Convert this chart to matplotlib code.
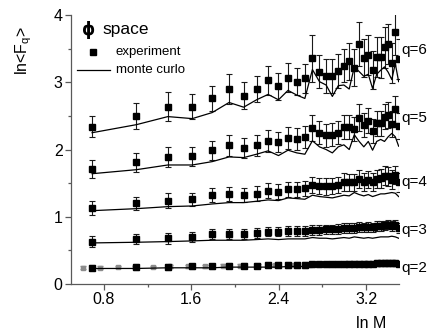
import numpy as np
import matplotlib
matplotlib.use("Agg")
import matplotlib.pyplot as plt

plt.rcParams["font.family"] = ["Liberation Sans", "DejaVu Sans"]
plt.rcParams["mathtext.fontset"] = "custom"
plt.rcParams["mathtext.rm"] = "Liberation Sans"

# bin number M, plotted as ln M
M = [2, 3, 4, 5, 6, 7, 8, 9, 10, 11, 12, 13, 14, 15, 16, 17, 18, 19, 20, 21,
     22, 23, 24, 25, 26, 27, 28, 29, 30, 31, 32, 33]

q6_exp = [2.34, 2.50, 2.64, 2.64, 2.76, 2.90, 2.80, 2.90, 3.03, 2.94, 3.07, 3.01,
          3.06, 3.36, 3.16, 3.09, 3.09, 3.17, 3.25, 3.31, 3.22, 3.57, 3.36, 3.41,
          3.18, 3.38, 3.37, 3.52, 3.57, 3.29, 3.75, 3.35]
q6_err = [0.16, 0.19, 0.22, 0.19, 0.18, 0.23, 0.20, 0.20, 0.22, 0.20, 0.22, 0.20,
          0.22, 0.35, 0.25, 0.25, 0.25, 0.25, 0.25, 0.28, 0.28, 0.33, 0.28, 0.30,
          0.28, 0.30, 0.30, 0.30, 0.30, 0.30, 0.35, 0.30]
q6_mc = [2.25, 2.37, 2.49, 2.46, 2.55, 2.70, 2.63, 2.74, 2.82, 2.74, 2.88, 2.81,
         2.76, 3.19, 3.01, 2.96, 2.79, 2.95, 2.96, 2.90, 3.23, 3.16, 3.09, 3.12,
         2.91, 3.12, 3.18, 3.23, 3.15, 3.04, 3.28, 3.01]

q5_exp = [1.71, 1.81, 1.89, 1.90, 1.99, 2.06, 2.02, 2.06, 2.13, 2.11, 2.17, 2.16,
          2.19, 2.32, 2.25, 2.21, 2.22, 2.25, 2.33, 2.34, 2.30, 2.47, 2.36, 2.43,
          2.28, 2.39, 2.39, 2.49, 2.51, 2.38, 2.60, 2.35]
q5_err = [0.13, 0.14, 0.15, 0.14, 0.14, 0.16, 0.15, 0.15, 0.16, 0.15, 0.16, 0.16,
          0.16, 0.19, 0.17, 0.17, 0.17, 0.17, 0.18, 0.18, 0.18, 0.20, 0.18, 0.19,
          0.18, 0.19, 0.19, 0.19, 0.19, 0.19, 0.20, 0.19]
q5_mc = [1.64, 1.70, 1.77, 1.77, 1.82, 1.89, 1.88, 1.93, 1.98, 1.91, 1.99, 1.95,
         1.93, 2.13, 2.04, 2.00, 1.95, 2.04, 2.07, 2.00, 2.22, 2.12, 2.04, 2.12,
         1.99, 2.12, 2.15, 2.12, 2.19, 2.24, 2.19, 2.05]

q4_exp = [1.13, 1.20, 1.24, 1.26, 1.32, 1.34, 1.32, 1.34, 1.39, 1.37, 1.41, 1.41,
          1.42, 1.47, 1.46, 1.45, 1.46, 1.47, 1.52, 1.51, 1.51, 1.56, 1.52, 1.55,
          1.52, 1.56, 1.57, 1.61, 1.60, 1.55, 1.62, 1.51]
q4_err = [0.10, 0.10, 0.11, 0.10, 0.10, 0.10, 0.10, 0.11, 0.11, 0.11, 0.11, 0.11,
          0.11, 0.12, 0.12, 0.12, 0.12, 0.12, 0.13, 0.13, 0.13, 0.13, 0.13, 0.13,
          0.13, 0.14, 0.14, 0.14, 0.14, 0.14, 0.14, 0.14]
q4_mc = [1.09, 1.12, 1.15, 1.16, 1.19, 1.21, 1.21, 1.23, 1.25, 1.24, 1.28, 1.27,
         1.26, 1.32, 1.30, 1.29, 1.28, 1.30, 1.32, 1.31, 1.36, 1.33, 1.31, 1.33,
         1.30, 1.32, 1.34, 1.34, 1.35, 1.36, 1.35, 1.30]

q3_exp = [0.63, 0.67, 0.68, 0.70, 0.74, 0.74, 0.74, 0.76, 0.78, 0.78, 0.79, 0.79,
          0.79, 0.80, 0.80, 0.81, 0.81, 0.82, 0.83, 0.83, 0.83, 0.85, 0.84, 0.85,
          0.84, 0.86, 0.86, 0.87, 0.88, 0.86, 0.88, 0.83]
q3_err = [0.08, 0.08, 0.08, 0.08, 0.07, 0.07, 0.07, 0.07, 0.07, 0.07, 0.07, 0.07,
          0.07, 0.07, 0.07, 0.07, 0.07, 0.07, 0.07, 0.07, 0.07, 0.07, 0.07, 0.07,
          0.07, 0.07, 0.07, 0.07, 0.07, 0.07, 0.07, 0.07]
q3_mc = [0.61, 0.62, 0.63, 0.64, 0.65, 0.65, 0.65, 0.66, 0.67, 0.66, 0.67, 0.67,
         0.67, 0.69, 0.68, 0.68, 0.67, 0.68, 0.69, 0.68, 0.70, 0.69, 0.68, 0.69,
         0.68, 0.69, 0.70, 0.70, 0.70, 0.71, 0.70, 0.68]

q2_exp = [0.24, 0.25, 0.25, 0.26, 0.26, 0.27, 0.27, 0.27, 0.28, 0.28, 0.28, 0.28,
          0.28, 0.29, 0.29, 0.29, 0.29, 0.29, 0.29, 0.30, 0.30, 0.30, 0.30, 0.30,
          0.30, 0.31, 0.31, 0.31, 0.31, 0.31, 0.31, 0.30]
q2_err = [0.04] * 32
q2_mc = [0.23, 0.23, 0.24, 0.24, 0.24, 0.25, 0.25, 0.25, 0.25, 0.25, 0.26, 0.26,
         0.26, 0.27, 0.26, 0.26, 0.26, 0.26, 0.27, 0.27, 0.27, 0.27, 0.27, 0.27,
         0.27, 0.27, 0.28, 0.28, 0.28, 0.28, 0.28, 0.27]

# small grey points under the q=2 row
grey_x = [0.61, 0.77, 0.93, 1.09, 1.25, 1.41, 1.57, 1.73, 1.89, 2.05, 2.21, 2.37,
          2.53, 2.69, 2.85, 3.01, 3.17, 3.33]
grey_y = [0.24, 0.24, 0.25, 0.25, 0.25, 0.26, 0.26, 0.26, 0.27, 0.27, 0.27, 0.28,
          0.28, 0.28, 0.29, 0.29, 0.29, 0.30]
grey_err = [0.02] * 18

q_labels = ["q=6", "q=5", "q=4", "q=3", "q=2"]
q_label_y = [3.48, 2.47, 1.52, 0.80, 0.23]

x = np.log(M)

fig = plt.figure(figsize=(4.38, 3.36), dpi=100)
ax = fig.add_axes([0.162, 0.155, 0.749, 0.80])

ax.errorbar(grey_x, grey_y, yerr=grey_err, fmt="s", ms=2.5, color="0.55",
            ecolor="0.55", elinewidth=0.8, capsize=2, zorder=2)

series = [(q6_exp, q6_err, q6_mc), (q5_exp, q5_err, q5_mc), (q4_exp, q4_err, q4_mc),
          (q3_exp, q3_err, q3_mc), (q2_exp, q2_err, q2_mc)]
for exp, err, mc in series:
    ax.errorbar(x, exp, yerr=err, fmt="s", ms=5, color="black", ecolor="0.1",
                elinewidth=0.8, capsize=2.5, capthick=0.8, zorder=3)
    ax.plot(x, mc, color="black", lw=0.9, zorder=4)

for lab, yy in zip(q_labels, q_label_y):
    ax.text(1.008, yy, lab, transform=ax.get_yaxis_transform(), fontsize=11,
            ha="left", va="center", clip_on=False)

ax.set_xlim(0.5, 3.5)
ax.set_ylim(0, 4)
ax.set_xticks([0.8, 1.6, 2.4, 3.2])
ax.set_xticks([1.2, 2.0, 2.8], minor=True)
ax.set_yticks([0, 1, 2, 3, 4])
ax.set_yticks([0.5, 1.5, 2.5, 3.5], minor=True)
ax.set_xticklabels(["0.8", "1.6", "2.4", "3.2"])
ax.tick_params(which="both", direction="out", color="0.35", labelsize=11.5, pad=2)
ax.tick_params(which="major", length=4, width=0.9)
ax.tick_params(which="minor", length=2.5, width=0.9)
for s in ["top", "right"]:
    ax.spines[s].set_visible(False)
for s in ["left", "bottom"]:
    ax.spines[s].set_color("0.35")
    ax.spines[s].set_linewidth(0.9)

# title-like annotation and hand-made legend
ax.text(0.035, 0.945, "\u03d5", transform=ax.transAxes, fontsize=12,
        fontweight="bold", ha="left", va="center", family=["DejaVu Sans"])
ax.text(0.097, 0.947, "space", transform=ax.transAxes, fontsize=12.5,
        ha="left", va="center")
ax.plot([0.067], [0.862], "s", ms=5, color="black", transform=ax.transAxes,
        clip_on=False)
ax.text(0.137, 0.862, "experiment", transform=ax.transAxes, fontsize=9.5,
        ha="left", va="center")
ax.plot([0.018, 0.119], [0.796, 0.796], color="black", lw=0.9,
        transform=ax.transAxes, clip_on=False)
ax.text(0.137, 0.796, "monte curlo", transform=ax.transAxes, fontsize=9.5,
        ha="left", va="center")

fig.text(0.847, 0.038, "ln M", fontsize=11.5, ha="center", va="center")
fig.text(0.055, 0.85, "ln<F$_\\mathrm{q}$>", fontsize=11.5, rotation=90,
         ha="center", va="center")

fig.savefig("out.png", dpi=100)
